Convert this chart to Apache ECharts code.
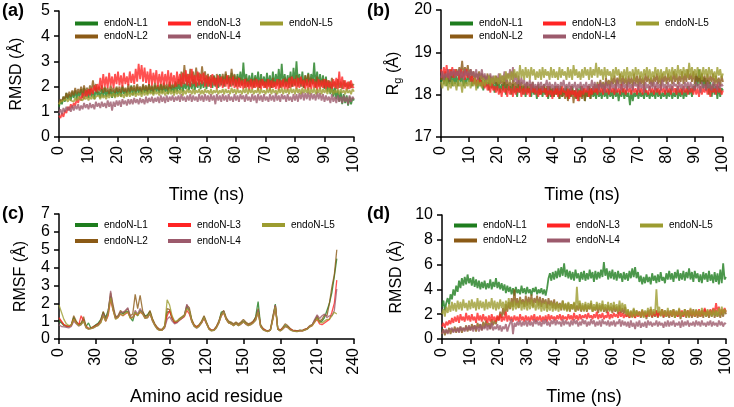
<!DOCTYPE html>
<html><head><meta charset="utf-8">
<script src="https://cdn.jsdelivr.net/npm/echarts@6/dist/echarts.min.js"></script>
<style>html,body{margin:0;padding:0;background:#fff}#c{width:734px;height:407px}</style>
</head><body><div id="c"></div>
<script>
var seriesNames = ['endoN-L1','endoN-L2','endoN-L3','endoN-L4','endoN-L5'];
var colors = ['#1e7d1e','#8b5a16','#ff2424','#9c5a6c','#9c9c30'];
var timeTicks = [0,10,20,30,40,50,60,70,80,90,100];
var residueTicks = [0,30,60,90,120,150,180,210,240];

// Panel (a) RMSD, 0.5 ns steps, 0..100 ns
var a_L1 = [1.2,1.45,1.3,1.6,1.4,1.75,1.5,1.7,1.45,1.8,
1.55,1.85,1.5,1.8,1.6,1.9,1.55,1.95,1.6,1.85,
1.55,1.9,1.6,1.85,1.5,1.95,1.65,1.8,1.55,1.9,
1.6,1.95,1.6,1.85,1.65,1.9,1.55,1.85,1.6,1.95,
1.65,1.9,1.6,2.0,1.7,1.9,1.65,1.95,1.7,2.05,
1.65,1.95,1.7,2.0,1.75,1.95,1.7,2.05,1.75,2.0,
1.7,2.1,1.75,2.0,1.7,2.05,1.8,2.0,1.75,2.1,
1.75,2.05,1.8,2.0,1.7,2.1,1.8,2.05,1.75,2.15,
1.8,2.1,1.85,2.2,1.8,2.15,1.9,2.25,1.85,2.2,
1.9,2.3,1.85,2.2,1.95,2.3,1.9,2.25,1.95,2.35,
1.9,2.4,2.0,2.3,1.95,2.45,2.0,2.35,1.95,2.5,
2.05,2.4,2.0,2.5,2.1,2.4,2.0,2.55,2.05,2.45,
2.0,2.5,2.1,2.6,2.05,2.95,2.1,2.5,2.0,2.45,
2.05,2.55,2.0,2.45,2.1,2.6,1.95,2.5,2.05,2.4,
2.0,2.55,2.05,2.45,1.95,2.6,2.0,2.5,2.1,2.7,
2.0,2.9,2.05,2.5,2.0,2.45,2.1,2.6,2.0,2.75,
2.05,3.0,2.1,2.5,2.0,2.6,1.95,2.45,2.05,2.55,
2.0,2.5,2.1,2.95,2.0,2.6,2.05,2.5,2.0,2.45,
1.9,2.4,1.8,2.2,1.7,2.1,1.6,1.95,1.5,1.85,
1.4,1.8,1.3,1.7,1.35,1.65,1.25,1.6,1.3,1.55,
1.45];
var a_L2 = [1.3,1.5,1.4,1.6,1.5,1.75,1.55,1.8,1.6,1.85,
1.65,1.95,1.7,1.9,1.75,2.0,1.7,2.05,1.75,1.95,
1.75,2.05,1.8,2.25,1.85,2.1,1.75,2.0,1.8,2.05,
1.75,2.0,1.8,1.95,1.7,2.05,1.8,1.95,1.75,2.0,
1.8,2.0,1.75,2.05,1.8,1.95,1.75,2.1,1.8,2.0,
1.85,2.05,1.8,2.1,1.85,2.0,1.8,2.1,1.85,2.05,
1.8,2.1,1.85,2.05,1.8,2.15,1.9,2.05,1.85,2.1,
1.85,2.15,1.9,2.1,1.85,2.2,1.9,2.1,1.95,2.2,
2.0,2.3,2.05,2.6,2.1,2.85,2.2,2.5,2.15,2.7,
2.2,2.6,2.1,2.75,2.25,2.55,2.2,2.8,2.25,2.6,
2.15,2.5,2.1,2.45,2.2,2.4,2.05,2.5,2.15,2.35,
2.2,2.5,2.1,2.6,2.15,2.45,2.1,2.7,2.2,2.5,
2.05,2.4,2.0,2.35,2.05,2.3,1.95,2.35,2.0,2.25,
2.0,2.3,1.95,2.35,2.0,2.25,1.95,2.3,2.05,2.2,
1.95,2.3,2.0,2.25,1.95,2.35,2.0,2.2,2.05,2.3,
1.95,2.25,2.0,2.35,2.05,2.3,1.95,2.4,2.0,2.3,
2.05,2.45,2.0,2.35,2.1,2.3,1.95,2.45,2.05,2.5,
2.0,2.35,2.1,2.3,1.95,2.4,2.0,2.25,2.05,2.3,
1.95,2.3,2.0,2.25,1.95,2.35,2.0,2.2,1.9,2.3,
1.95,2.2,1.9,2.25,2.0,2.15,1.9,2.2,1.95,2.1,
2.05];
var a_L3 = [0.85,0.75,0.95,0.8,1.05,0.95,1.2,1.05,1.3,1.15,
1.35,1.25,1.5,1.35,1.6,1.45,1.75,1.5,1.85,1.6,
1.9,1.65,1.95,1.7,2.05,1.8,2.1,1.85,2.35,1.9,
2.5,2.0,2.4,1.95,2.55,2.05,2.4,1.95,2.5,2.1,
2.6,2.05,2.45,2.0,2.55,2.1,2.4,2.05,2.6,2.15,
2.5,2.1,2.7,2.2,2.9,2.3,2.85,2.2,2.75,2.15,
2.6,2.1,2.7,2.05,2.55,2.15,2.65,2.0,2.5,2.1,
2.6,2.05,2.5,2.1,2.65,2.0,2.55,2.1,2.45,2.0,
2.6,2.1,2.5,2.0,2.55,2.1,2.65,2.05,2.5,2.0,
2.7,2.1,2.45,2.0,2.6,2.05,2.5,2.1,2.55,2.0,
2.45,2.0,2.4,1.95,2.5,2.05,2.35,1.9,2.45,2.0,
2.4,1.95,2.3,2.0,2.45,1.9,2.35,2.0,2.4,1.95,
2.3,1.9,2.35,1.95,2.25,1.9,2.3,1.95,2.2,1.85,
2.3,1.9,2.25,1.95,2.3,1.85,2.25,1.9,2.3,1.95,
2.2,1.9,2.3,1.85,2.25,1.95,2.2,1.9,2.3,1.85,
2.25,1.95,2.3,1.9,2.2,1.85,2.35,1.95,2.4,2.0,
2.3,1.9,2.35,1.95,2.4,2.0,2.25,1.9,2.3,1.85,
2.25,1.9,2.3,1.95,2.2,1.85,2.3,1.9,2.25,1.95,
2.3,1.9,2.25,1.95,2.2,1.9,2.3,1.95,2.35,1.9,
2.6,1.95,2.4,1.9,2.25,1.85,2.2,1.9,2.25,1.95,
2.0];
var a_L4 = [0.95,1.1,0.9,1.15,1.0,1.2,1.05,1.2,1.0,1.25,
1.05,1.25,1.1,1.3,1.05,1.25,1.1,1.35,1.15,1.3,
1.1,1.35,1.15,1.3,1.1,1.4,1.2,1.35,1.15,1.4,
1.2,1.35,1.15,1.45,1.2,1.4,1.05,1.4,1.2,1.45,
1.25,1.45,1.2,1.5,1.3,1.45,1.25,1.5,1.3,1.5,
1.3,1.55,1.35,1.5,1.3,1.55,1.35,1.5,1.3,1.6,
1.35,1.55,1.4,1.6,1.35,1.55,1.4,1.6,1.35,1.65,
1.4,1.6,1.35,1.65,1.4,1.6,1.45,1.65,1.4,1.6,
1.45,1.65,1.4,1.7,1.45,1.6,1.4,1.65,1.45,1.7,
1.4,1.65,1.45,1.6,1.4,1.7,1.45,1.65,1.4,1.7,
1.45,1.65,1.4,1.7,1.45,1.65,1.3,1.7,1.45,1.65,
1.4,1.7,1.45,1.65,1.4,1.7,1.45,1.6,1.4,1.7,
1.45,1.65,1.4,1.7,1.5,1.65,1.4,1.7,1.45,1.6,
1.4,1.7,1.45,1.65,1.35,1.7,1.45,1.65,1.4,1.7,
1.45,1.6,1.4,1.7,1.45,1.65,1.4,1.75,1.45,1.65,
1.4,1.7,1.5,1.65,1.4,1.7,1.45,1.6,1.4,1.7,
1.45,1.7,1.4,1.75,1.5,1.8,1.45,1.75,1.5,1.8,
1.45,1.75,1.5,1.7,1.45,1.8,1.5,1.75,1.45,1.7,
1.4,1.65,1.45,1.6,1.35,1.7,1.4,1.6,1.35,1.65,
1.4,1.6,1.35,1.65,1.4,1.6,1.3,1.65,1.4,1.6,
1.5];
var a_L5 = [1.3,1.4,1.35,1.45,1.4,1.5,1.4,1.55,1.45,1.5,
1.4,1.55,1.45,1.6,1.5,1.55,1.45,1.6,1.5,1.6,
1.45,1.6,1.5,1.65,1.5,1.6,1.55,1.65,1.5,1.7,
1.55,1.65,1.5,1.7,1.55,1.7,1.6,1.75,1.55,1.7,
1.6,1.75,1.6,1.7,1.55,1.75,1.6,1.8,1.6,1.75,
1.65,1.8,1.6,1.75,1.65,1.8,1.6,1.85,1.65,1.8,
1.65,1.85,1.7,1.8,1.65,1.85,1.7,1.8,1.65,1.85,
1.7,1.85,1.65,1.8,1.7,1.9,1.7,1.85,1.65,1.9,
1.7,1.85,1.7,1.9,1.65,1.85,1.7,1.9,1.75,1.85,
1.7,1.9,1.7,1.85,1.75,1.9,1.7,1.85,1.7,1.9,
1.75,1.85,1.7,1.9,1.7,1.85,1.75,1.9,1.7,1.85,
1.75,1.9,1.7,1.9,1.75,1.85,1.7,1.95,1.75,1.9,
1.7,1.9,1.75,1.85,1.7,1.9,1.75,1.95,1.7,1.9,
1.75,1.9,1.7,1.85,1.75,1.95,1.7,1.9,1.75,1.85,
1.7,1.9,1.75,1.95,1.7,1.9,1.75,1.85,1.7,1.9,
1.75,1.95,1.7,1.9,1.75,1.9,1.7,1.95,1.75,1.9,
1.7,1.95,1.75,1.9,1.7,1.95,1.75,1.9,1.75,1.95,
1.7,1.9,1.75,1.95,1.7,1.9,1.75,1.95,1.7,1.9,
1.75,1.9,1.7,1.95,1.75,1.9,1.7,1.85,1.75,1.9,
1.7,1.9,1.75,1.85,1.7,1.9,1.75,1.85,1.7,1.9,
1.8];

// Panel (b) Rg, 0.5 ns steps
var b_L1 = [18.3,18.45,18.25,18.5,18.2,18.4,18.25,18.45,18.2,18.5,
18.25,18.45,18.2,18.5,18.3,18.45,18.2,18.4,18.25,18.5,
18.3,18.45,18.2,18.4,18.25,18.35,18.15,18.4,18.2,18.35,
18.1,18.35,18.2,18.3,18.1,18.35,18.15,18.3,18.05,18.3,
18.1,18.3,18.05,18.25,18.1,18.3,18.0,18.25,18.1,18.2,
18.0,18.25,18.05,18.2,17.95,18.25,18.05,18.2,18.0,18.2,
17.95,18.2,18.05,18.15,17.95,18.2,18.0,18.15,17.9,18.2,
18.0,18.15,17.95,18.2,18.0,18.15,17.9,18.2,17.95,18.15,
17.95,18.2,18.0,18.15,17.9,18.2,17.95,18.15,18.0,18.2,
17.9,18.15,17.95,18.2,18.0,18.1,17.9,18.15,17.95,18.2,
17.95,18.15,17.85,18.1,17.95,18.2,17.9,18.15,17.95,18.1,
17.9,18.15,17.95,18.1,17.9,18.15,17.95,18.1,17.9,18.15,
17.95,18.1,17.9,18.15,17.95,18.1,17.85,18.1,17.95,18.15,
17.9,18.1,17.95,18.05,17.75,18.1,17.85,18.05,17.95,18.1,
17.9,18.1,17.95,18.05,17.9,18.15,17.95,18.05,17.9,18.1,
17.95,18.1,17.9,18.15,17.95,18.1,17.9,18.05,17.95,18.1,
17.9,18.1,17.95,18.15,17.9,18.05,17.95,18.15,17.9,18.1,
17.95,18.15,17.9,18.1,17.95,18.2,18.0,18.15,17.95,18.2,
18.1,18.45,18.2,18.6,18.25,18.5,18.15,18.4,18.1,18.35,
18.0,18.3,17.95,18.25,18.0,18.2,17.9,18.2,17.95,18.15,
18.1];
var b_L2 = [18.35,18.5,18.3,18.55,18.35,18.5,18.3,18.6,18.4,18.55,
18.4,18.6,18.45,18.65,18.5,18.8,18.45,18.65,18.5,18.7,
18.45,18.6,18.4,18.55,18.35,18.5,18.4,18.55,18.3,18.5,
18.35,18.45,18.3,18.5,18.25,18.45,18.3,18.4,18.25,18.45,
18.2,18.4,18.25,18.35,18.2,18.4,18.15,18.35,18.2,18.3,
18.15,18.35,18.2,18.3,18.1,18.35,18.15,18.3,18.1,18.25,
18.15,18.3,18.05,18.25,18.1,18.3,18.05,18.2,18.1,18.25,
18.0,18.2,18.05,18.25,18.0,18.2,17.95,18.2,18.05,18.15,
17.95,18.15,18.0,18.2,17.9,18.15,17.95,18.1,17.9,18.15,
17.85,18.1,17.95,18.15,17.8,18.1,17.9,18.05,17.85,18.1,
17.9,18.15,17.85,18.1,17.95,18.2,17.9,18.15,18.0,18.25,
18.05,18.3,18.1,18.35,18.15,18.3,18.1,18.4,18.2,18.35,
18.2,18.4,18.25,18.45,18.2,18.4,18.25,18.5,18.2,18.45,
18.25,18.4,18.2,18.45,18.25,18.4,18.2,18.5,18.25,18.45,
18.2,18.45,18.25,18.4,18.2,18.5,18.3,18.45,18.25,18.4,
18.2,18.45,18.3,18.5,18.25,18.45,18.2,18.5,18.3,18.45,
18.25,18.5,18.3,18.45,18.25,18.55,18.3,18.5,18.25,18.45,
18.3,18.55,18.25,18.5,18.3,18.6,18.35,18.5,18.3,18.55,
18.25,18.5,18.3,18.45,18.25,18.5,18.3,18.45,18.2,18.5,
18.25,18.45,18.3,18.5,18.2,18.45,18.25,18.4,18.2,18.45,
18.3];
var b_L3 = [18.6,18.4,18.65,18.45,18.7,18.4,18.6,18.45,18.65,18.4,
18.6,18.45,18.55,18.35,18.6,18.4,18.55,18.35,18.6,18.4,
18.5,18.3,18.45,18.25,18.4,18.2,18.4,18.25,18.35,18.2,
18.3,18.15,18.3,18.1,18.25,18.05,18.3,18.1,18.2,18.05,
18.2,18.0,18.15,17.95,18.2,18.05,18.15,17.95,18.2,18.0,
18.15,17.95,18.2,18.0,18.15,18.05,18.2,17.95,18.15,18.0,
18.2,18.0,18.15,17.95,18.25,18.05,18.15,18.0,18.2,17.95,
18.15,18.0,18.2,18.05,18.15,17.95,18.2,18.0,18.1,17.9,
18.15,18.0,18.2,17.95,18.15,18.0,18.2,18.05,18.1,17.95,
18.15,17.9,18.2,18.0,18.1,17.95,18.15,17.85,18.1,17.95,
18.2,18.0,18.15,18.05,18.2,17.95,18.15,18.0,18.2,18.05,
18.15,18.0,18.25,18.05,18.15,18.0,18.2,18.05,18.15,18.0,
18.2,18.05,18.15,18.0,18.2,18.05,18.15,18.0,18.25,18.05,
18.15,18.0,18.2,18.05,18.15,18.0,18.2,18.05,18.15,18.0,
18.2,18.05,18.15,18.0,18.2,18.05,18.1,18.0,18.2,18.05,
18.15,18.0,18.2,18.05,18.15,18.0,18.2,18.05,18.15,18.0,
18.2,18.05,18.15,18.0,18.2,18.05,18.15,18.0,18.2,18.05,
18.15,18.0,18.2,18.05,18.15,18.0,18.2,18.05,18.15,18.0,
18.2,18.0,18.15,17.95,18.2,18.0,18.15,18.05,18.2,18.0,
18.15,17.95,18.2,18.05,18.15,18.0,18.25,18.05,18.15,18.0,
18.1];
var b_L4 = [18.4,18.55,18.35,18.5,18.4,18.6,18.35,18.55,18.45,18.6,
18.4,18.55,18.45,18.6,18.4,18.55,18.35,18.6,18.45,18.55,
18.4,18.6,18.45,18.55,18.4,18.6,18.35,18.5,18.45,18.6,
18.35,18.5,18.3,18.45,18.35,18.5,18.3,18.45,18.3,18.4,
18.35,18.5,18.3,18.45,18.35,18.55,18.3,18.5,18.4,18.6,
18.35,18.65,18.3,18.5,18.25,18.45,18.2,18.4,18.25,18.35,
18.15,18.3,18.2,18.35,18.1,18.3,18.15,18.25,18.1,18.3,
18.15,18.3,18.1,18.25,18.2,18.35,18.1,18.3,18.15,18.25,
18.1,18.3,18.15,18.25,18.1,18.3,18.2,18.35,18.1,18.25,
18.15,18.3,18.1,18.25,18.15,18.3,18.1,18.25,18.15,18.3,
18.1,18.25,18.15,18.3,18.1,18.25,18.15,18.35,18.1,18.3,
18.15,18.25,18.1,18.3,18.15,18.25,18.05,18.3,18.15,18.25,
18.1,18.3,18.15,18.25,18.1,18.35,18.15,18.25,18.1,18.3,
18.15,18.25,18.1,18.3,18.15,18.25,18.1,18.3,18.2,18.25,
18.1,18.3,18.15,18.25,18.05,18.3,18.15,18.25,18.1,18.3,
18.15,18.3,18.1,18.3,18.15,18.25,18.1,18.35,18.15,18.25,
18.1,18.3,18.15,18.25,18.1,18.3,18.2,18.25,18.1,18.3,
18.15,18.25,18.1,18.3,18.15,18.3,18.1,18.3,18.15,18.25,
18.1,18.3,18.15,18.25,18.05,18.3,18.15,18.25,18.1,18.3,
18.15,18.25,18.1,18.3,18.15,18.25,18.1,18.3,18.15,18.25,
18.2];
var b_L5 = [18.3,18.15,18.35,18.2,18.4,18.1,18.3,18.15,18.35,18.2,
18.3,18.1,18.35,18.2,18.3,18.05,18.35,18.15,18.3,18.2,
18.35,18.15,18.3,18.2,18.4,18.1,18.35,18.2,18.3,18.15,
18.4,18.2,18.35,18.25,18.45,18.2,18.4,18.25,18.45,18.3,
18.4,18.25,18.5,18.3,18.45,18.3,18.55,18.35,18.5,18.3,
18.55,18.35,18.6,18.4,18.55,18.35,18.7,18.4,18.6,18.35,
18.65,18.4,18.6,18.35,18.65,18.45,18.6,18.35,18.55,18.4,
18.6,18.35,18.65,18.4,18.6,18.45,18.55,18.35,18.65,18.4,
18.6,18.4,18.55,18.35,18.65,18.4,18.6,18.45,18.55,18.35,
18.65,18.4,18.6,18.35,18.7,18.45,18.6,18.4,18.55,18.35,
18.6,18.4,18.65,18.45,18.6,18.35,18.65,18.4,18.6,18.45,
18.75,18.4,18.65,18.45,18.6,18.35,18.65,18.4,18.6,18.45,
18.55,18.35,18.6,18.4,18.65,18.45,18.6,18.35,18.55,18.4,
18.6,18.35,18.65,18.4,18.55,18.4,18.6,18.35,18.65,18.45,
18.6,18.4,18.55,18.35,18.6,18.45,18.65,18.4,18.6,18.35,
18.55,18.4,18.65,18.45,18.6,18.35,18.6,18.4,18.55,18.45,
18.65,18.4,18.6,18.35,18.65,18.45,18.6,18.4,18.7,18.45,
18.6,18.4,18.65,18.45,18.6,18.4,18.75,18.45,18.65,18.4,
18.6,18.45,18.65,18.4,18.6,18.35,18.65,18.45,18.6,18.4,
18.65,18.45,18.6,18.4,18.55,18.35,18.65,18.45,18.6,18.4,
18.5];

// Panel (c) RMSF, residues 0..226 in steps of 2
var c_L1 = [1.0,0.9,0.75,0.7,0.7,0.78,1.2,0.95,0.8,0.85,
1.1,0.7,0.9,0.6,0.68,0.8,0.9,1.1,1.5,1.2,
1.6,2.4,1.7,1.2,1.25,1.5,1.4,1.5,1.55,1.2,
1.0,1.5,1.3,1.6,1.5,1.3,1.35,1.55,1.1,0.8,
0.6,0.5,0.52,0.7,1.5,1.55,1.15,0.9,0.95,1.1,
1.2,1.3,1.8,1.6,1.05,0.75,0.65,0.78,0.95,1.25,
0.9,0.6,0.48,0.5,0.68,0.95,1.5,1.55,1.15,0.95,
0.9,0.8,0.9,0.8,0.9,1.0,0.9,0.8,0.85,0.95,
1.25,2.1,0.75,0.55,0.48,0.45,0.5,1.2,1.95,0.55,
0.48,0.6,0.75,0.7,0.55,0.48,0.45,0.45,0.48,0.47,
0.52,0.58,0.7,0.78,1.05,1.2,0.95,1.0,1.2,1.6,
2.0,2.6,3.5,4.5];
var c_L2 = [1.15,0.95,0.8,0.75,0.72,0.8,1.3,1.0,0.82,0.9,
1.25,0.72,0.6,0.62,0.7,0.78,0.85,1.05,1.55,1.1,
1.5,2.6,1.9,1.25,1.3,1.6,1.45,1.55,1.7,1.3,
1.4,2.5,1.7,2.45,1.6,1.25,1.3,1.6,1.15,0.85,
0.65,0.55,0.55,0.75,1.7,1.65,1.2,0.95,1.0,1.15,
1.25,1.35,1.9,1.75,1.1,0.8,0.7,0.8,1.0,1.3,
0.95,0.62,0.5,0.52,0.7,1.0,1.4,1.6,1.2,1.0,
0.95,0.85,0.95,0.85,0.95,1.1,0.95,0.85,0.9,1.0,
1.2,1.7,0.8,0.6,0.5,0.45,0.55,1.3,1.9,0.6,
0.5,0.65,0.85,0.75,0.6,0.5,0.48,0.45,0.5,0.48,
0.55,0.6,0.75,0.8,1.0,1.3,1.0,1.1,1.35,1.3,
2.0,2.9,3.6,5.0];
var c_L3 = [1.2,1.0,0.8,0.72,0.7,0.75,1.1,0.9,0.78,1.3,
1.0,0.68,0.58,0.6,0.65,0.72,0.8,0.95,1.3,1.0,
1.3,2.2,1.6,1.15,1.2,1.4,1.3,1.4,1.5,1.2,
1.2,1.4,1.35,1.5,1.4,1.2,1.2,1.4,1.05,0.78,
0.58,0.5,0.5,0.68,1.3,1.6,1.2,0.9,0.95,1.05,
1.15,1.25,1.6,1.4,1.0,0.75,0.65,0.75,0.9,1.15,
0.85,0.58,0.48,0.5,0.65,0.9,1.3,1.45,1.1,0.9,
0.85,0.78,0.85,0.78,0.85,0.95,0.85,0.78,0.82,0.92,
1.1,1.5,0.72,0.55,0.48,0.43,0.5,1.1,1.8,0.55,
0.48,0.58,0.7,0.65,0.55,0.48,0.45,0.43,0.47,0.46,
0.52,0.57,0.68,0.75,0.95,1.1,0.85,0.8,0.9,1.0,
1.1,1.5,2.0,3.3];
var c_L4 = [0.8,0.7,0.68,0.65,0.62,0.7,1.0,0.85,0.72,0.8,
1.0,0.62,0.55,0.58,0.62,0.7,0.78,0.95,1.4,1.0,
1.5,2.7,1.7,1.15,1.25,1.5,1.5,1.6,1.75,1.25,
1.2,1.6,1.4,1.7,1.45,1.15,1.2,1.45,1.0,0.75,
0.55,0.48,0.5,0.62,1.1,1.25,1.0,0.85,0.9,1.05,
1.15,1.3,1.95,1.55,0.95,0.7,0.6,0.7,0.9,1.2,
0.85,0.55,0.45,0.48,0.62,0.9,1.3,1.55,1.1,0.9,
0.85,0.75,0.85,0.75,0.82,0.95,0.82,0.75,0.8,0.9,
1.05,1.6,0.7,0.52,0.45,0.42,0.5,1.15,1.9,0.55,
0.45,0.55,0.7,0.65,0.52,0.45,0.43,0.42,0.46,0.45,
0.5,0.56,0.7,0.8,1.1,1.35,1.15,1.3,1.4,1.2,
1.3,1.3,1.6,2.8];
var c_L5 = [1.9,1.5,1.1,0.85,0.75,0.78,1.1,0.9,0.75,0.8,
1.0,0.65,0.55,0.58,0.62,0.7,0.75,0.9,1.3,1.0,
1.4,2.3,1.6,1.1,1.2,1.4,1.3,1.45,1.5,1.15,
1.2,1.5,1.3,1.55,1.4,1.15,1.2,1.45,1.05,0.75,
0.55,0.48,0.5,0.7,2.2,1.9,1.3,1.0,1.0,1.1,
1.2,1.3,1.7,1.6,1.0,0.72,0.62,0.72,0.92,1.2,
0.88,0.55,0.45,0.48,0.62,0.9,1.3,1.5,1.1,0.9,
0.85,0.75,0.85,0.75,0.85,0.95,0.85,0.75,0.8,0.9,
1.05,1.5,0.7,0.52,0.45,0.42,0.5,1.1,1.8,0.55,
0.45,0.55,0.7,0.65,0.52,0.45,0.43,0.42,0.46,0.45,
0.5,0.55,0.68,0.75,0.95,1.15,0.95,0.9,1.0,1.1,
1.1,1.3,1.5,1.4];

// Panel (d) RMSD, 0.5 ns steps
var d_L1 = [2.6,3.1,2.3,2.9,3.3,2.8,3.6,3.2,4.0,3.5,
4.3,3.8,4.7,4.1,4.9,4.3,5.0,4.4,5.2,4.5,
4.9,4.3,5.0,4.2,4.8,4.1,4.7,4.0,4.6,4.1,
4.7,4.0,4.5,4.1,4.8,4.0,4.6,4.2,4.9,4.1,
4.6,4.0,4.5,3.9,4.4,3.7,4.3,3.8,4.2,3.6,
4.1,3.5,4.2,3.7,4.0,3.6,4.3,3.7,4.1,3.6,
4.2,3.7,4.0,3.5,4.1,3.8,4.2,3.6,4.0,3.7,
4.1,3.6,4.0,3.5,4.1,4.9,5.3,4.7,5.4,4.8,
5.5,4.9,5.7,5.0,5.8,5.1,6.1,5.0,5.6,4.9,
5.5,4.8,5.4,4.7,5.6,4.9,5.3,4.6,5.4,4.8,
5.5,4.7,5.3,4.8,5.6,4.9,5.4,4.6,5.5,4.8,
5.4,4.9,5.6,5.0,6.2,5.1,5.7,4.8,5.5,4.9,
5.6,4.8,5.4,4.7,5.5,4.9,5.3,4.6,5.4,4.8,
5.3,4.7,5.5,4.9,5.7,5.0,5.8,4.9,5.4,4.6,
5.1,4.4,5.0,4.5,5.2,4.6,5.0,4.4,5.3,4.7,
5.1,4.5,5.2,4.6,5.4,4.7,5.0,4.5,5.3,4.8,
5.5,4.8,5.3,4.6,5.4,4.9,5.6,4.7,5.3,4.8,
5.5,4.7,5.4,4.9,5.7,4.8,5.4,4.6,5.5,4.9,
5.3,4.6,5.2,4.5,5.4,4.8,5.3,4.6,5.5,4.7,
5.2,4.5,5.4,4.6,5.3,4.4,5.6,4.5,6.1,4.8,
5.0];
var d_L2 = [0.4,0.8,0.3,0.7,0.5,0.9,0.4,0.8,0.6,1.0,
0.5,0.9,0.6,1.0,0.5,0.9,0.7,1.1,0.6,1.0,
0.7,1.2,0.8,1.1,0.6,1.3,0.9,1.2,0.7,1.4,
0.9,1.5,1.0,1.3,0.8,1.6,1.1,1.5,1.2,1.8,
1.5,2.2,1.7,2.5,1.9,2.8,2.2,3.0,2.4,3.3,
2.6,4.0,2.7,3.3,2.5,3.4,2.8,3.2,2.6,3.5,
2.7,3.4,2.8,3.6,2.6,3.3,2.9,3.5,2.7,3.4,
2.6,3.3,2.8,3.2,2.5,3.3,2.7,3.1,2.5,3.2,
2.4,3.0,2.5,2.9,2.3,3.1,2.4,2.8,2.3,2.9,
2.2,2.8,2.4,2.9,2.2,2.7,2.3,2.9,2.2,2.7,
2.3,2.8,2.2,2.7,2.4,2.9,2.2,2.6,2.3,2.8,
2.1,2.7,2.3,2.8,2.2,2.6,2.1,2.7,2.3,2.6,
2.1,2.7,2.2,2.6,2.0,2.7,2.1,2.5,2.0,2.6,
1.8,2.3,1.7,2.2,1.8,2.4,1.7,2.3,1.9,2.2,
1.7,2.3,1.8,2.2,1.6,2.3,1.8,2.4,1.7,2.2,
1.8,2.3,1.7,2.2,1.9,2.4,1.7,2.3,1.8,2.2,
1.7,2.3,1.8,2.4,1.7,2.2,1.8,2.3,1.6,2.2,
1.8,2.4,1.7,2.3,1.8,2.2,1.7,2.4,1.8,2.3,
1.7,2.2,1.8,2.3,1.7,2.4,1.8,2.2,1.7,2.3,
1.8,2.4,1.7,2.3,1.8,2.2,1.7,2.3,1.8,2.4,
2.0];
var d_L3 = [1.0,1.3,0.9,1.4,1.1,1.5,1.2,1.7,1.3,1.8,
1.4,1.9,1.3,2.0,1.5,1.8,1.4,2.1,1.5,1.9,
1.4,2.0,1.5,1.8,1.3,2.1,1.5,1.9,1.4,2.0,
1.5,1.8,1.3,1.9,1.4,2.0,1.5,1.8,1.4,1.9,
1.5,2.0,1.4,1.8,1.5,2.2,1.4,1.9,1.5,1.8,
1.4,1.9,1.5,1.8,1.4,2.0,1.5,1.8,1.4,1.9,
1.5,1.8,1.4,1.9,1.5,2.0,1.4,1.8,1.5,1.9,
1.4,1.8,1.5,1.9,1.4,2.0,1.5,1.9,1.6,1.8,
1.5,1.9,1.6,2.0,1.5,1.9,1.6,1.8,1.5,2.0,
1.6,1.9,1.5,2.1,1.6,1.9,1.5,2.0,1.6,1.9,
1.7,2.0,1.6,2.1,1.7,1.9,1.6,2.0,1.7,2.2,
1.6,2.0,1.7,2.1,1.6,1.9,1.7,2.2,1.6,2.0,
1.7,2.1,1.8,2.0,1.7,2.2,1.8,2.1,1.7,2.0,
1.8,2.1,1.7,2.2,1.8,2.0,1.7,2.1,1.8,2.2,
1.8,2.3,1.9,2.1,1.8,2.2,1.9,2.4,1.8,2.2,
1.9,2.3,1.8,2.2,1.9,2.4,1.8,2.2,1.9,2.3,
1.9,2.2,1.8,2.3,1.9,2.2,1.8,2.4,1.9,2.3,
1.8,2.2,1.9,2.3,1.8,2.4,1.9,2.2,1.8,2.3,
1.9,2.4,1.8,2.3,1.9,2.5,2.0,2.3,1.9,2.4,
2.0,2.5,2.1,2.9,2.2,2.6,2.0,2.4,2.1,2.5,
2.2];
var d_L4 = [0.4,0.7,0.5,0.8,0.4,0.7,0.6,0.9,0.5,0.8,
0.6,0.9,0.5,1.0,0.7,0.9,0.6,1.0,0.7,1.1,
0.7,1.0,0.6,1.1,0.8,1.0,0.6,1.2,0.7,1.0,
0.8,1.2,0.7,1.1,0.8,1.3,0.7,1.0,0.8,1.2,
0.7,1.1,0.6,1.0,0.8,1.2,0.6,1.0,0.9,1.6,
0.4,1.3,1.0,1.4,1.1,1.5,1.0,1.4,1.1,1.5,
1.0,1.5,1.1,1.4,1.0,1.6,1.2,1.5,1.1,1.4,
1.0,1.5,1.2,1.6,1.1,1.4,1.0,1.5,1.2,1.6,
1.1,1.5,1.2,1.4,1.0,1.6,1.1,1.5,1.2,1.4,
1.0,1.5,1.1,1.6,1.2,1.5,1.0,1.4,1.1,1.6,
1.2,1.5,1.0,1.4,1.1,1.6,1.2,1.5,1.0,1.4,
1.1,1.5,1.0,1.6,1.2,1.4,1.1,1.5,1.0,1.4,
1.1,1.5,1.0,1.4,1.2,1.6,1.0,1.5,1.1,1.4,
1.0,1.4,0.9,1.5,1.0,1.3,0.8,1.4,1.0,1.5,
0.9,1.3,1.0,1.4,0.9,1.5,1.1,1.4,1.0,1.3,
1.1,1.5,1.0,1.4,1.1,1.3,0.9,1.4,1.0,1.5,
1.0,1.4,1.1,1.5,1.0,1.3,1.1,1.4,0.9,1.5,
1.0,1.4,1.1,1.5,1.0,1.3,1.1,1.4,1.0,1.5,
1.1,1.4,1.0,1.5,1.1,1.3,1.0,1.4,1.1,1.5,
1.0,1.4,1.1,1.3,1.0,1.5,1.1,1.4,1.0,1.3,
1.2];
var d_L5 = [2.0,2.4,1.8,2.6,2.1,2.8,2.2,3.0,2.3,2.9,
2.2,3.1,2.4,3.0,2.3,3.2,2.5,2.9,2.3,3.1,
2.4,3.2,2.5,3.0,2.3,3.3,2.4,3.1,2.5,3.0,
2.3,3.2,2.4,3.0,2.5,3.3,2.4,3.1,2.3,3.0,
2.4,3.2,2.5,3.0,2.3,3.1,2.4,3.3,2.5,3.0,
2.3,3.1,2.4,2.9,2.5,3.2,2.3,3.0,2.4,3.1,
2.3,3.0,2.4,3.2,2.5,2.9,2.3,3.1,2.4,3.0,
2.2,2.9,2.3,3.0,2.2,2.8,2.3,3.0,2.2,2.9,
2.3,3.0,2.2,2.8,2.4,3.1,2.3,2.9,2.2,3.0,
2.3,2.8,2.4,3.0,2.2,4.2,2.4,3.1,2.3,2.9,
2.2,3.0,2.3,2.9,2.4,3.1,2.2,2.8,2.3,3.0,
2.4,2.9,2.2,3.1,2.3,2.8,2.4,3.0,2.2,2.9,
2.3,3.0,2.4,2.8,2.2,3.1,2.3,2.9,2.4,2.8,
1.9,2.4,1.8,2.3,1.7,2.5,1.8,2.3,1.9,2.2,
1.8,2.4,1.7,2.3,1.9,2.5,1.8,2.6,1.9,2.4,
2.0,4.0,2.1,2.6,1.8,2.4,1.9,2.3,1.8,2.5,
1.9,2.3,1.8,2.4,1.7,2.3,1.9,2.5,1.8,2.2,
1.9,2.4,1.8,2.3,1.7,2.5,1.9,2.3,1.8,2.4,
1.9,2.3,1.8,2.5,1.9,2.2,1.8,2.4,1.9,2.3,
1.8,2.4,1.9,2.3,1.8,2.5,1.9,2.6,2.0,2.4,
2.2];

var FONT = 'Liberation Sans, Arial, sans-serif';
function pairs(ys, step){ return ys.map(function(v,i){ return [i*step, v]; }); }

var panels = [
  {grid:{left:59,top:11,width:295,height:126}, x:{min:0,max:100,interval:10,name:'Time (ns)'},
   y:{min:0,max:5,interval:1,name:'RMSD (Å)', gap:34}, data:[a_L1,a_L2,a_L3,a_L4,a_L5], step:0.5, lw:1.8,
   leg:{x:[75,168,260], top:17, lh:13}, tag:{x:2,y:2,t:'(a)'}},
  {grid:{left:441,top:10,width:282,height:127}, x:{min:0,max:100,interval:10,name:'Time (ns)'},
   y:{min:17,max:20,interval:1,name:'{r|R}{s|g}{r| (Å)}', gap:38}, data:[b_L1,b_L2,b_L3,b_L4,b_L5], step:0.5, lw:1.8,
   leg:{x:[450,543,636], top:17, lh:13}, tag:{x:367,y:2,t:'(b)'}},
  {grid:{left:59,top:214,width:295,height:128}, x:{min:0,max:240,interval:30,name:'Amino acid residue'},
   y:{min:0,max:7,interval:1,name:'RMSF (Å)', gap:30}, data:[c_L1,c_L2,c_L3,c_L4,c_L5], step:2, lw:1.3,
   leg:{x:[75,168,262], top:217, lh:16}, tag:{x:2,y:205,t:'(c)'}},
  {grid:{left:442,top:215,width:285,height:126}, x:{min:0,max:100,interval:10,name:'Time (ns)'},
   y:{min:0,max:10,interval:2,name:'RMSD (Å)', gap:37}, data:[d_L1,d_L2,d_L3,d_L4,d_L5], step:0.5, lw:1.8,
   leg:{x:[454,547,640], top:218, lh:15}, tag:{x:367,y:205,t:'(d)'}}
];

var option = {animation:false, backgroundColor:'#fff', textStyle:{fontFamily:FONT},
  grid:[], xAxis:[], yAxis:[], series:[], legend:[], graphic:[]};
var axisLine = {show:true, lineStyle:{color:'#000', width:1.5}};
panels.forEach(function(p, pi){
  option.grid.push(p.grid);
  option.xAxis.push({type:'value', gridIndex:pi, min:p.x.min, max:p.x.max, interval:p.x.interval,
    name:p.x.name, nameLocation:'middle', nameGap:49,
    nameTextStyle:{fontSize:18, color:'#000', fontFamily:FONT},
    axisLine:axisLine, axisTick:{show:true, length:5, lineStyle:{color:'#000', width:1.5}},
    axisLabel:{rotate:90, fontSize:16, color:'#000', margin:9, fontFamily:FONT},
    splitLine:{show:false}});
  option.yAxis.push({type:'value', gridIndex:pi, min:p.y.min, max:p.y.max, interval:p.y.interval,
    name:p.y.name, nameLocation:'middle', nameGap:p.y.gap,
    nameTextStyle:{fontSize:16, color:'#000', fontFamily:FONT,
      rich:{r:{fontSize:16, color:'#000', fontFamily:FONT}, s:{fontSize:11, color:'#000', fontFamily:FONT, padding:[8,0,0,0]}}},
    axisLine:axisLine, axisTick:{show:true, length:5, lineStyle:{color:'#000', width:1.5}},
    axisLabel:{fontSize:16, color:'#000', margin:9, fontFamily:FONT},
    splitLine:{show:false}});
  p.data.forEach(function(arr, si){
    option.series.push({type:'line', name:seriesNames[si], xAxisIndex:pi, yAxisIndex:pi,
      data:pairs(arr, p.step), showSymbol:false, symbol:'none',
      lineStyle:{color:colors[si], width:p.lw, opacity:0.8}, itemStyle:{color:colors[si]},
      z:2+si});
  });
  var cols = [['endoN-L1','endoN-L2'],['endoN-L3','endoN-L4'],['endoN-L5']];
  cols.forEach(function(c, ci){
    option.legend.push({data:c, orient:'vertical', left:p.leg.x[ci], top:p.leg.top,
      icon:'rect', itemWidth:23, itemHeight:4, itemGap:0, padding:0,
      selectedMode:false, itemStyle:{opacity:1},
      textStyle:{fontSize:10, color:'#000', fontFamily:FONT, lineHeight:p.leg.lh, padding:[0,0,0,1]}});
  });
  option.graphic.push({type:'text', left:p.tag.x, top:p.tag.y,
    style:{text:p.tag.t, font:'bold 18px ' + FONT, fill:'#000'}});
});
echarts.init(document.getElementById('c')).setOption(option);
</script></body></html>
